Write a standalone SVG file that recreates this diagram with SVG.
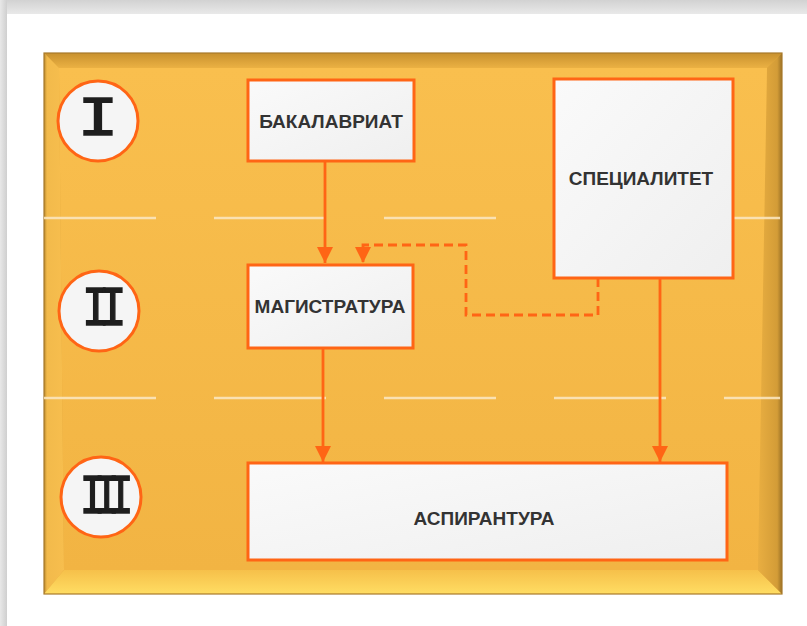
<svg xmlns="http://www.w3.org/2000/svg" width="807" height="626" viewBox="0 0 807 626">
<defs>
<linearGradient id="topShadow" x1="0" y1="0" x2="0" y2="1"><stop offset="0" stop-color="#d2d2d2"/><stop offset="1" stop-color="#e9e9e9"/></linearGradient>
<linearGradient id="leftShadow" x1="0" y1="0" x2="1" y2="0"><stop offset="0" stop-color="#e8e8e8"/><stop offset="1" stop-color="#cfcfcf"/></linearGradient>
<linearGradient id="face" x1="0" y1="0" x2="0" y2="1"><stop offset="0" stop-color="#F9BF4E"/><stop offset="1" stop-color="#F2B443"/></linearGradient>
<linearGradient id="bevTop" x1="0" y1="0" x2="0" y2="1"><stop offset="0" stop-color="#C8912F"/><stop offset="1" stop-color="#EBB143"/></linearGradient>
<linearGradient id="bevBot" x1="0" y1="0" x2="0" y2="1"><stop offset="0" stop-color="#F6C04A"/><stop offset="1" stop-color="#FFDD63"/></linearGradient>
<linearGradient id="bevRight" x1="0" y1="0" x2="1" y2="0"><stop offset="0" stop-color="#E9AE41"/><stop offset="0.8" stop-color="#D39C37"/><stop offset="1" stop-color="#9C7226"/></linearGradient>
<linearGradient id="bevLeft" x1="0" y1="0" x2="1" y2="0"><stop offset="0" stop-color="#B9892E"/><stop offset="0.15" stop-color="#F2BA4B"/><stop offset="1" stop-color="#F7BE4E"/></linearGradient>
<linearGradient id="boxFill" x1="0" y1="0" x2="1" y2="1"><stop offset="0" stop-color="#fafafa"/><stop offset="1" stop-color="#efefef"/></linearGradient>
<marker id="arr" viewBox="0 0 10 10" refX="10" refY="5" markerWidth="16" markerHeight="16" markerUnits="userSpaceOnUse" orient="auto">
<path d="M0,0 L10,5 L0,10 z" fill="#FF6515"/>
</marker>
</defs>
<style>
.box{fill:url(#boxFill);stroke:#FF6515;stroke-width:3}
.lbl{font-family:"Liberation Sans",Arial,sans-serif;font-weight:bold;font-size:19px;fill:#333333;text-anchor:middle;dominant-baseline:central}
.circ{fill:#f5f5f5;stroke:#FF6515;stroke-width:3}
.num{font-family:"Liberation Mono","Courier New",monospace;font-size:56px;fill:#1e1e1e;stroke:#1e1e1e;stroke-width:1.6;text-anchor:middle}
.conn{fill:none;stroke:#FF6515;stroke-width:2.8}
.dash{stroke-dasharray:9 5}
.sep{stroke:#FBE6BE;stroke-width:2.5;stroke-dasharray:112 58;opacity:0.9}
</style>
<rect width="807" height="626" fill="#ffffff"/>
<rect x="0" y="0" width="807" height="14" fill="url(#topShadow)"/>
<rect x="0" y="0" width="7" height="626" fill="url(#leftShadow)"/>
<g id="panel">
<rect x="44" y="53" width="738" height="541" fill="#E3A93C"/>
<polygon points="44,53 782,53 767,68 59,68" fill="url(#bevTop)"/>
<polygon points="44,53 59,68 64,570 44,594" fill="url(#bevLeft)"/>
<polygon points="44,594 64,570 758,570 782,594" fill="url(#bevBot)"/>
<polygon points="782,53 767,68 758,570 782,594" fill="url(#bevRight)"/>
<polygon points="59,68 767,68 758,570 64,570" fill="url(#face)"/>
<rect x="44" y="53" width="738" height="541" fill="none" stroke="#A87A2B" stroke-width="1.2"/>
</g>
<g id="separators">
<line x1="44" y1="218" x2="780" y2="218" class="sep"/>
<line x1="44" y1="398" x2="780" y2="398" class="sep"/>
</g>
<g id="level-1">
<circle cx="98" cy="121" r="40" class="circ"/>
<text x="98" y="135" class="num" transform="translate(98 0) scale(1.22 1) translate(-98 0)">I</text>
</g>
<g id="level-2">
<circle cx="99" cy="311" r="40" class="circ"/>
<text x="99" y="325" class="num" letter-spacing="-13" transform="translate(99 0) scale(0.82 1) translate(-99 0)">II</text>
</g>
<g id="level-3">
<circle cx="101" cy="497" r="40" class="circ"/>
<text x="101" y="513" class="num" letter-spacing="-15" transform="translate(101 0) scale(0.76 1) translate(-101 0)">III</text>
</g>
<g id="connectors">
<line x1="325" y1="161" x2="325" y2="263" class="conn" marker-end="url(#arr)"/>
<path d="M598,278 V315 H466 V245 H363 V263" class="conn dash" marker-end="url(#arr)"/>
<line x1="323" y1="348" x2="323" y2="462" class="conn" marker-end="url(#arr)"/>
<line x1="660" y1="278" x2="660" y2="462" class="conn" marker-end="url(#arr)"/>
</g>
<g id="bakalavriat">
<rect x="248" y="80" width="166" height="81" class="box"/>
<text x="331" y="121" class="lbl">БАКАЛАВРИАТ</text>
</g>
<g id="specialitet">
<rect x="554" y="79" width="179" height="199" class="box"/>
<text x="641" y="178" class="lbl">СПЕЦИАЛИТЕТ</text>
</g>
<g id="magistratura">
<rect x="248" y="265" width="165" height="83" class="box"/>
<text x="330" y="306" class="lbl">МАГИСТРАТУРА</text>
</g>
<g id="aspirantura">
<rect x="248" y="463" width="479" height="97" class="box"/>
<text x="484" y="518" class="lbl">АСПИРАНТУРА</text>
</g>
</svg>
